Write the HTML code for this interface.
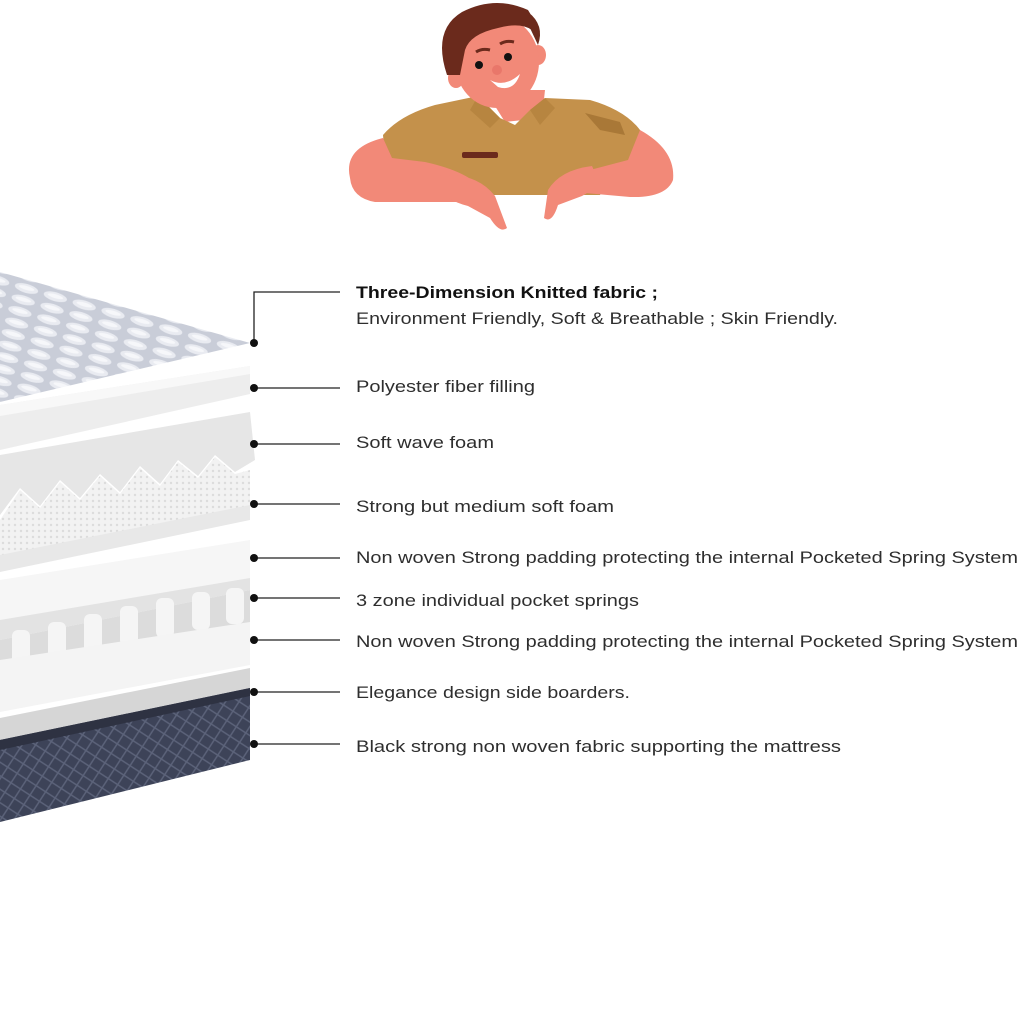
<!DOCTYPE html>
<html><head><meta charset="utf-8"><style>
html,body{margin:0;padding:0;background:#fff;width:1024px;height:1024px;overflow:hidden}
svg{display:block}
text{font-family:"Liberation Sans",sans-serif;font-size:17px;fill:#2e2e2e}
</style></head><body>
<svg width="1024" height="1024" viewBox="0 0 1024 1024" xmlns="http://www.w3.org/2000/svg">
<defs>
<pattern id="quilt" width="16" height="16" patternUnits="userSpaceOnUse" patternTransform="rotate(-12)">
<rect width="16" height="16" fill="#3d4358"/>
<path d="M0 8L8 0L16 8L8 16Z" fill="none" stroke="#5c637a" stroke-width="1.5"/>
</pattern>
<pattern id="knit" width="30" height="12" patternUnits="userSpaceOnUse" patternTransform="rotate(16)">
<rect width="30" height="12" fill="#c9cdd8"/>
<ellipse cx="15" cy="6" rx="12" ry="4.5" fill="#e9ebf1"/>
<ellipse cx="15" cy="5.5" rx="8" ry="2" fill="#f6f7fa"/>
</pattern>
<pattern id="dots" width="6" height="6" patternUnits="userSpaceOnUse">
<rect width="6" height="6" fill="#f2f2f2"/><circle cx="3" cy="3" r="1.2" fill="#dcdcdc"/>
</pattern>
</defs>

<!-- character -->
<g>
<path d="M485 90 L545 90 L542 118 L505 122 Z" fill="#f28978"/>
<path d="M383 135 Q400 115 435 105 L478 96 L500 118 L515 125 L530 110 L545 98 L590 100 Q625 110 640 130 L648 160 L615 165 L600 195 L430 195 L420 165 L385 160 Z" fill="#c4914b"/>
<path d="M478 96 L500 118 L490 128 L470 110 Z M545 98 L530 110 L540 125 L555 108 Z" fill="#b78540"/>
<rect x="462" y="152" width="36" height="6" rx="2" fill="#6b2a1c"/>
<path d="M585 113 L620 122 L625 135 L600 130 Z" fill="#a97837"/>
<path d="M350 178 Q343 148 383 138 L392 158 L425 162 Q470 172 482 190 L472 202 L375 202 Q352 198 350 178Z" fill="#f28978"/>
<path d="M440 176 Q476 172 495 196 L507 228 Q500 234 490 218 L468 206 Q444 200 440 186 Z" fill="#f28978"/>
<path d="M640 130 Q676 150 673 180 Q666 198 630 197 L585 193 Q575 185 590 170 L628 160 Z" fill="#f28978"/>
<path d="M592 166 Q560 170 548 190 L544 218 Q552 224 558 205 L582 196 Q602 186 592 166Z" fill="#f28978"/>
<ellipse cx="456" cy="78" rx="8" ry="10" fill="#f28978"/>
<ellipse cx="538" cy="55" rx="8" ry="10" fill="#f28978"/>
<ellipse cx="497" cy="62" rx="42" ry="46" fill="#f28978"/>
<path d="M447 75 Q432 30 462 12 Q495 -5 528 10 Q535 20 532 30 Q520 22 498 28 Q470 34 465 50 L460 75 Z" fill="#6b2a1c"/>
<path d="M528 12 Q545 25 538 45 L530 28 Z" fill="#6b2a1c"/>
<path d="M476 52 Q482 48 490 50 M500 44 Q506 40 514 42" stroke="#6b2a1c" stroke-width="3" fill="none"/>
<circle cx="479" cy="65" r="4" fill="#111"/><circle cx="508" cy="57" r="4" fill="#111"/>
<circle cx="497" cy="70" r="5" fill="#e9776a"/>
<path d="M490 80 Q505 88 520 74 Q514 92 498 87 Z" fill="#fff"/>
</g>

<!-- mattress layers -->
<polygon points="0,272 250,343 0,402" fill="url(#knit)"/>
<polygon points="0,405 250,366 250,394 0,450" fill="#ededed"/>
<polygon points="0,405 250,366 250,374 0,416" fill="#f8f8f8"/>
<polygon points="0,455 250,412 255,460 235,472 215,455 198,476 178,460 160,484 140,466 120,492 100,474 80,498 60,480 40,506 20,488 0,515" fill="#e6e6e6"/>
<polygon points="0,520 20,490 40,508 60,482 80,500 100,476 120,494 140,468 160,486 178,462 198,478 215,457 235,474 250,470 250,518 0,570" fill="url(#dots)"/>
<polygon points="0,555 250,505 250,520 0,572" fill="#e8e8e8"/>
<polygon points="0,580 250,540 250,588 0,640" fill="#f6f6f6"/>
<polygon points="0,620 250,578 250,590 0,640" fill="#e3e3e3"/>
<polygon points="0,640 250,590 250,625 0,675" fill="#dcdcdc"/>
<g fill="#f5f5f5">
<rect x="12" y="630" width="18" height="40" rx="6"/><rect x="48" y="622" width="18" height="40" rx="6"/>
<rect x="84" y="614" width="18" height="40" rx="6"/><rect x="120" y="606" width="18" height="40" rx="6"/>
<rect x="156" y="598" width="18" height="40" rx="6"/><rect x="192" y="592" width="18" height="38" rx="6"/>
<rect x="226" y="588" width="18" height="36" rx="6"/>
</g>
<polygon points="0,660 250,622 250,665 0,712" fill="#f4f4f4"/>
<polygon points="0,718 250,668 250,688 0,742" fill="#d6d6d6"/>
<polygon points="0,740 250,688 250,760 0,822" fill="url(#quilt)"/>
<polygon points="0,740 250,688 250,696 0,750" fill="#2e3242"/>

<!-- connectors -->
<g stroke="#222" stroke-width="1.3" fill="none">
<path d="M254 343 V292 H340"/>
<path d="M254 388 H340"/><path d="M254 444 H340"/><path d="M254 504 H340"/>
<path d="M254 558 H340"/><path d="M254 598 H340"/><path d="M254 640 H340"/>
<path d="M254 692 H340"/><path d="M254 744 H340"/>
</g>
<g fill="#111">
<circle cx="254" cy="343" r="4"/><circle cx="254" cy="388" r="4"/><circle cx="254" cy="444" r="4"/>
<circle cx="254" cy="504" r="4"/><circle cx="254" cy="558" r="4"/><circle cx="254" cy="598" r="4"/>
<circle cx="254" cy="640" r="4"/><circle cx="254" cy="692" r="4"/><circle cx="254" cy="744" r="4"/>
</g>

<text x="356" y="298" font-weight="bold" style="fill:#111" textLength="302" lengthAdjust="spacingAndGlyphs">Three-Dimension Knitted fabric ;</text>
<text x="356" y="324" textLength="482" lengthAdjust="spacingAndGlyphs">Environment Friendly, Soft &amp; Breathable ; Skin Friendly.</text>
<text x="356" y="392" textLength="179" lengthAdjust="spacingAndGlyphs">Polyester fiber filling</text>
<text x="356" y="448" textLength="138" lengthAdjust="spacingAndGlyphs">Soft wave foam</text>
<text x="356" y="512" textLength="258" lengthAdjust="spacingAndGlyphs">Strong but medium soft foam</text>
<text x="356" y="563" textLength="662" lengthAdjust="spacingAndGlyphs">Non woven Strong padding protecting the internal Pocketed Spring System</text>
<text x="356" y="606" textLength="283" lengthAdjust="spacingAndGlyphs">3 zone individual pocket springs</text>
<text x="356" y="647" textLength="662" lengthAdjust="spacingAndGlyphs">Non woven Strong padding protecting the internal Pocketed Spring System</text>
<text x="356" y="698" textLength="274" lengthAdjust="spacingAndGlyphs">Elegance design side boarders.</text>
<text x="356" y="752" textLength="485" lengthAdjust="spacingAndGlyphs">Black strong non woven fabric supporting the mattress</text>
</svg>
</body></html>
